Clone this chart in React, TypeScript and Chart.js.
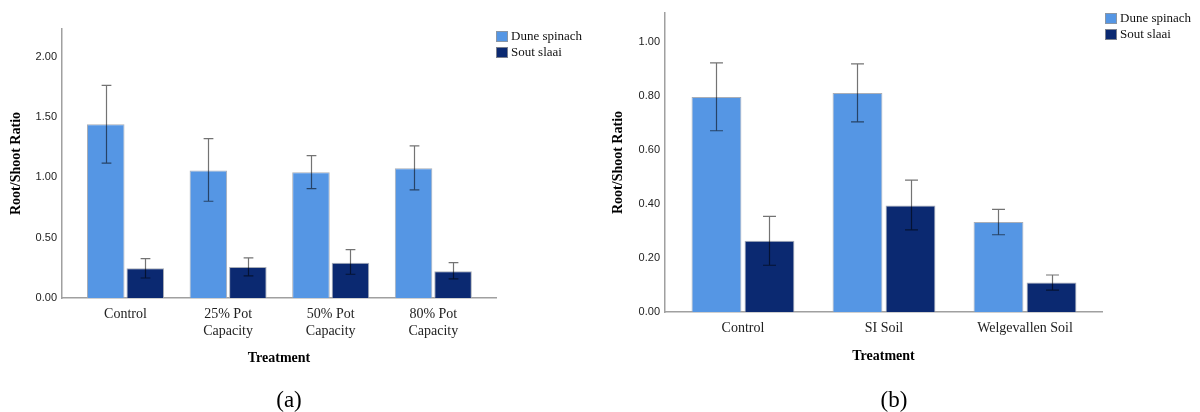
import React, { useEffect, useRef } from "react";
import { Chart, registerables } from "chart.js";

Chart.register(...registerables);

// ---------- data ----------
const seriesLabels = ["Dune spinach", "Sout slaai"];
const seriesColors = ["#5596e4", "#0b2971"];

const categoriesA = [["Control"], ["25% Pot", "Capacity"], ["50% Pot", "Capacity"], ["80% Pot", "Capacity"]];
const duneA = [1.44, 1.056, 1.043, 1.076];
const duneALow = [1.118, 0.802, 0.907, 0.896];
const duneAHigh = [1.762, 1.322, 1.181, 1.261];
const soutA = [0.246, 0.257, 0.293, 0.222];
const soutALow = [0.166, 0.183, 0.197, 0.158];
const soutAHigh = [0.326, 0.332, 0.401, 0.293];
const yTicksA = [0, 0.5, 1.0, 1.5, 2.0];

const categoriesB = [["Control"], ["SI Soil"], ["Welgevallen Soil"]];
const duneB = [0.796, 0.811, 0.333];
const duneBLow = [0.671, 0.704, 0.286];
const duneBHigh = [0.922, 0.919, 0.38];
const soutB = [0.264, 0.394, 0.109];
const soutBLow = [0.173, 0.304, 0.081];
const soutBHigh = [0.354, 0.488, 0.137];
const yTicksB = [0, 0.2, 0.4, 0.6, 0.8, 1.0];

const xTitle = "Treatment";
const yTitle = "Root/Shoot Ratio";

// ---------- component ----------
type Series = { values: number[]; low: number[]; high: number[] };

type PanelProps = {
  cats: string[][];
  series: Series[];
  yTicks: number[];
  yMax: number;
  xMin: number;
  xMax: number;
  area: { left: number; right: number; top: number; bottom: number };
  catPct: number;
  barPct: number;
  capFrac: number;
  yTitlePad: number;
  xTitlePad: number;
  legendDx: number;
  legendDy: number;
};

const W = 600;
const H = 412;

function Panel(p: PanelProps) {
  const ref = useRef<HTMLCanvasElement | null>(null);
  useEffect(() => {
    if (!ref.current) return;

    const errorBars = {
      id: "errorBars",
      afterDatasetsDraw(chart: any) {
        const ctx = chart.ctx;
        const ys = chart.scales.y;
        ctx.save();
        ctx.strokeStyle = "rgba(0,0,0,0.55)";
        ctx.lineWidth = 1.2;
        p.series.forEach((s, k) => {
          const meta = chart.getDatasetMeta(k);
          meta.data.forEach((bar: any, i: number) => {
            const x = Math.round(bar.x) + 0.5;
            const yl = ys.getPixelForValue(s.low[i]);
            const yh = ys.getPixelForValue(s.high[i]);
            const half = bar.width * p.capFrac;
            ctx.beginPath();
            ctx.moveTo(x, yl);
            ctx.lineTo(x, yh);
            ctx.moveTo(x - half, yh);
            ctx.lineTo(x + half, yh);
            ctx.moveTo(x - half, yl);
            ctx.lineTo(x + half, yl);
            ctx.stroke();
          });
        });
        ctx.restore();
      },
    };

    const legendPlugin = {
      id: "boxLegend",
      afterDraw(chart: any) {
        const ctx = chart.ctx;
        const a = chart.chartArea;
        const x0 = a.right + p.legendDx;
        const y0 = a.top + p.legendDy;
        ctx.save();
        ctx.font = "13px 'Liberation Serif', serif";
        ctx.textBaseline = "middle";
        ctx.textAlign = "left";
        seriesLabels.forEach((lab, k) => {
          const y = y0 + k * 16;
          ctx.fillStyle = seriesColors[k];
          ctx.fillRect(x0, y, 12, 11);
          ctx.strokeStyle = "rgba(150,150,150,0.8)";
          ctx.lineWidth = 1;
          ctx.strokeRect(x0 + 0.5, y + 0.5, 11, 10);
          ctx.fillStyle = "#111";
          ctx.fillText(lab, x0 + 15, y + 6);
        });
        ctx.restore();
      },
    };

    const chart = new Chart(ref.current, {
      type: "bar",
      data: {
        datasets: p.series.map((s, k) => ({
          label: seriesLabels[k],
          data: s.values.map((v, i) => ({ x: i, y: v })),
          backgroundColor: seriesColors[k],
          borderColor: "rgba(160,165,175,0.9)",
          borderWidth: 1,
          categoryPercentage: p.catPct,
          barPercentage: p.barPct,
        })),
      } as any,
      options: {
        animation: false,
        responsive: false,
        maintainAspectRatio: false,
        layout: {
          padding: { top: p.area.top, right: W - p.area.right, left: 0, bottom: 0 },
        },
        plugins: {
          legend: { display: false },
          tooltip: { enabled: false },
        },
        scales: {
          x: {
            type: "linear",
            offset: false,
            min: p.xMin,
            max: p.xMax,
            grid: { display: false, drawTicks: false, offset: false },
            border: { display: true, color: "#a0a0a0", width: 1.5 },
            afterBuildTicks: (s: any) => {
              s.ticks = p.cats.map((_, i) => ({ value: i }));
            },
            afterFit: (s: any) => {
              s.height = H - p.area.bottom;
            },
            ticks: {
              autoSkip: false,
              maxRotation: 0,
              minRotation: 0,
              padding: 8,
              color: "#222",
              font: { family: "'Liberation Serif', serif", size: 14 },
              callback: (v: any) => p.cats[Math.round(Number(v))] ?? "",
            },
            title: {
              display: true,
              text: xTitle,
              color: "#000",
              font: { family: "'Liberation Serif', serif", size: 14, weight: "bold" },
              padding: { top: 0, bottom: p.xTitlePad },
            },
          },
          y: {
            min: 0,
            max: p.yMax,
            grid: { display: false, drawTicks: false },
            border: { display: true, color: "#a0a0a0", width: 1.5 },
            afterBuildTicks: (s: any) => {
              s.ticks = p.yTicks.map((v) => ({ value: v }));
            },
            afterFit: (s: any) => {
              s.width = p.area.left;
            },
            ticks: {
              padding: 5,
              color: "#222",
              font: { family: "'Liberation Sans', Arial, sans-serif", size: 11 },
              callback: (v: any) => Number(v).toFixed(2),
            },
            title: {
              display: true,
              text: yTitle,
              color: "#000",
              font: { family: "'Liberation Serif', serif", size: 14, weight: "bold" },
              padding: { top: p.yTitlePad, bottom: 0 },
            },
          },
        },
      } as any,
      plugins: [errorBars, legendPlugin],
    });
    return () => chart.destroy();
  }, []);
  return <canvas ref={ref} width={W} height={H} style={{ width: W, height: H, display: "block" }} />;
}

export default function App() {
  const seriesA: Series[] = [
    { values: duneA, low: duneALow, high: duneAHigh },
    { values: soutA, low: soutALow, high: soutAHigh },
  ];
  const seriesB: Series[] = [
    { values: duneB, low: duneBLow, high: duneBHigh },
    { values: soutB, low: soutBLow, high: soutBHigh },
  ];
  const lab: React.CSSProperties = {
    position: "absolute",
    top: 399,
    transform: "translate(-50%, -50%)",
    fontFamily: "'Liberation Serif', serif",
    fontSize: 23,
    lineHeight: 1,
    color: "#000",
    whiteSpace: "nowrap",
  };
  return (
    <div style={{ position: "fixed", left: 0, top: 0, width: 1200, height: 412, background: "#fff", overflow: "hidden" }}>
      <div style={{ position: "absolute", left: 0, top: 0 }}>
        <Panel
          cats={categoriesA}
          series={seriesA}
          yTicks={yTicksA}
          yMax={2.23}
          xMin={-0.619}
          xMax={3.611}
          area={{ left: 62, right: 496, top: 29, bottom: 298 }}
          catPct={0.77}
          barPct={0.95}
          capFrac={0.13}
          yTitlePad={7.6}
          xTitlePad={45.6}
          legendDx={0}
          legendDy={2}
        />
      </div>
      <div style={{ position: "absolute", left: 600, top: 0 }}>
        <Panel
          cats={categoriesB}
          series={seriesB}
          yTicks={yTicksB}
          yMax={1.107}
          xMin={-0.553}
          xMax={2.546}
          area={{ left: 65, right: 502, top: 13, bottom: 312 }}
          catPct={0.752}
          barPct={0.94}
          capFrac={0.13}
          yTitlePad={9.6}
          xTitlePad={47.6}
          legendDx={3}
          legendDy={0}
        />
      </div>
      <div style={{ ...lab, left: 289 }}>(a)</div>
      <div style={{ ...lab, left: 894 }}>(b)</div>
    </div>
  );
}
